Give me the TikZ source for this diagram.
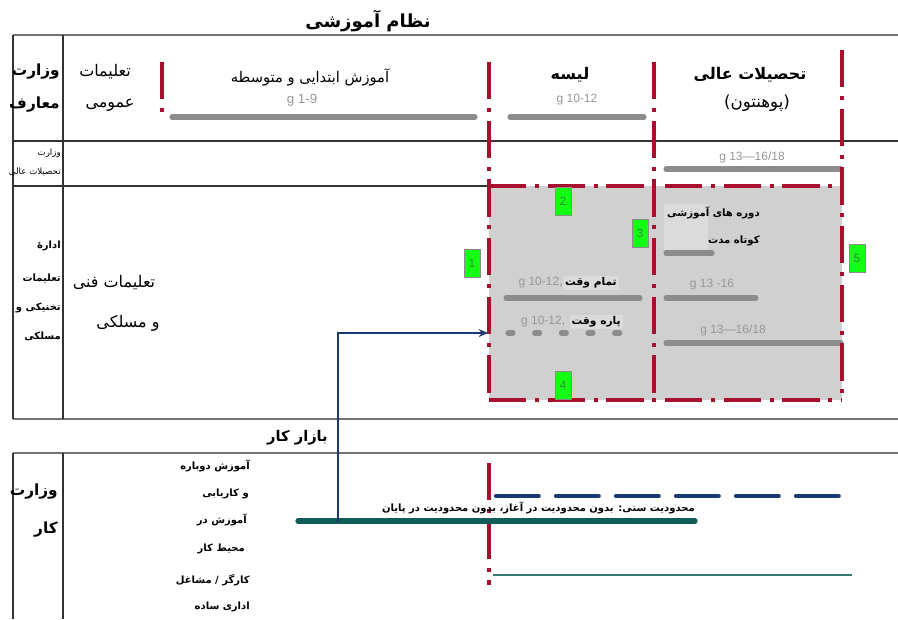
\documentclass[tikz,border=0pt]{standalone}
\usepackage{fontspec}
\setmainfont{Liberation Sans}
\newfontfamily\pfont[Script=Arabic]{DejaVu Sans}
\TeXXeTstate=1
\usetikzlibrary{arrows.meta}
\definecolor{redd}{RGB}{168,16,46}
\definecolor{barg}{RGB}{140,140,140}
\definecolor{boxg}{RGB}{208,208,208}
\definecolor{hig}{RGB}{219,219,219}
\definecolor{labg}{RGB}{150,150,150}
\definecolor{navy}{RGB}{24,58,110}
\definecolor{teal1}{RGB}{16,92,88}
\definecolor{teal2}{RGB}{60,120,115}
\definecolor{grn}{RGB}{20,255,20}
\tikzset{
  fa/.style={font={\pfont\fontsize{#1}{#1}\selectfont}, inner sep=0pt},
  fab/.style={font={\pfont\bfseries\fontsize{#1}{#1}\selectfont}, inner sep=0pt},
  glab/.style={font={\fontsize{9}{9}\selectfont}, text=labg, inner sep=0pt},
  rule/.style={line width=0.8pt, black!80},
  grule/.style={line width=1.1pt, black!55},
  reddash/.style={draw=redd, line width=3pt, dash pattern=on 28pt off 6.5pt on 3pt off 6.5pt},
  gbar/.style={draw=barg, line width=3.8pt, line cap=round},
  numbox/.style={draw=black!45, fill=grn, minimum width=12pt, minimum height=21pt, inner sep=0pt, text=black!45!green!60!gray, font={\fontsize{9}{9}\selectfont}},
  hilite/.style={inner sep=1.5pt, fill=hig},
}
\begin{document}
\begin{tikzpicture}[x=0.75pt, y=-0.75pt]
\useasboundingbox (0,0) rectangle (898,619);
% table rules
\draw[grule] (13,35) -- (898,35);
\draw[rule] (13,141) -- (898,141);
\draw[rule] (13,186) -- (489,186);
\draw[grule] (13,419) -- (898,419);
\draw[grule] (13,453) -- (898,453);
\draw[rule] (13,35) -- (13,419);
\draw[rule] (63,35) -- (63,419);
\draw[rule] (13,453) -- (13,619);
\draw[rule] (63,453) -- (63,619);
% title
\node[fab=13.5] (title) at (368,21) {\beginR نظام آموزشی\endR};
% left column
\node[fab=11.5, anchor=east] (vm1) at (60,72) {\beginR وزارت\endR};
\node[fab=11.5, anchor=east] (vm2) at (60,105) {\beginR معارف\endR};
\node[fa=12] (ta1) at (105,72) {\beginR تعلیمات\endR};
\node[fa=12] (ta2) at (110,105) {\beginR عمومی\endR};
\node[fa=6.5, anchor=east] (vt1) at (61,153) {\beginR وزارت\endR};
\node[fa=6.5, anchor=east] (vt2) at (61,172) {\beginR تحصیلات عالی\endR};
\node[fab=7.5, anchor=east] (ad1) at (61,246) {\beginR ادارهٔ\endR};
\node[fab=7.5, anchor=east] (ad2) at (61,279) {\beginR تعلیمات\endR};
\node[fab=7.5, anchor=east] (ad3) at (61,308) {\beginR تخنیکی و\endR};
\node[fab=7.5, anchor=east] (ad4) at (61,336) {\beginR مسلکی\endR};
\node[fa=12] (tf1) at (114,283) {\beginR تعلیمات فنی\endR};
\node[fa=12] (tf2) at (128,323) {\beginR و مسلکی\endR};
% gray box
\fill[boxg] (489,186) rectangle (842,400);
\fill[hig] (664,204) rectangle (708,250);
% headings
\node[fa=11] (h1) at (310,77) {\beginR آموزش ابتدایی و متوسطه\endR};
\node[glab, font={\fontsize{10}{10}\selectfont}] (g1) at (302,100) {g 1-9};
\node[fab=12] (h2) at (570,75) {\beginR لیسه\endR};
\node[glab] (g2) at (577,100) {g 10-12};
\node[fab=12] (h3) at (750,75) {\beginR تحصیلات عالی\endR};
\node[fa=12.5] (h4) at (757,103) {\beginR (پوهنتون)\endR};
\node[glab] (g3) at (752,157) {g 13—16/18};
% bars
\draw[gbar] (172,117) -- (475,117);
\draw[gbar] (510,117) -- (644,117);
\draw[gbar] (666,169) -- (841,169);
\draw[gbar] (666,253) -- (712,253);
\draw[gbar] (506,298) -- (640,298);
\draw[gbar] (666,298) -- (756,298);
\draw[gbar] (666,343) -- (841,343);
\draw[gbar, dash pattern=on 3.75pt off 16.25pt] (508,333) -- (622,333);
% box texts
\node[fab=7.6, anchor=east] (d1) at (760,213) {\beginR دوره های آموزشی\endR};
\node[fab=7.6, anchor=east] (d2) at (760,241) {\beginR کوتاه مدت\endR};
\node[hilite, anchor=east] (tv) at (619,283) {{\pfont\bfseries\fontsize{8}{8}\selectfont\beginR تمام وقت\endR}};
\node[glab, anchor=east] (tvg) at (tv.west) {g 10-12,};
\node[hilite, anchor=east] (pv) at (623,322) {{\pfont\bfseries\fontsize{8}{8}\selectfont\beginR پاره وقت\endR}};
\node[glab, anchor=east] (pvg) at ([xshift=-3pt]pv.west) {g 10-12,};
\node[glab] (g4) at (712,285) {g 13 -16};
\node[glab] (g5) at (733,330) {g 13—16/18};
% red dash-dot boundaries
\draw[reddash] (162,62) -- (162,118);
\draw[reddash] (489,62) -- (489,400);
\draw[reddash] (654,62) -- (654,400);
\draw[reddash] (842,50) -- (842,400);
\draw[reddash] (489,186) -- (842,186);
\draw[reddash] (489,400) -- (842,400);
\draw[reddash] (489,463) -- (489,585);
% numbered boxes
\node[numbox] (n1) at (472,263) {1};
\node[numbox] (n2) at (563,201) {2};
\node[numbox] (n3) at (640,233) {3};
\node[numbox] (n4) at (563,385) {4};
\node[numbox] (n5) at (857,258) {5};
% labour market
\node[fab=11, anchor=east] (bk) at (328,438) {\beginR بازار کار\endR};
\node[fab=11.5, anchor=east] (vk1) at (58,492) {\beginR وزارت\endR};
\node[fab=11.5, anchor=east] (vk2) at (58,530) {\beginR کار\endR};
\node[fab=7.5, anchor=east] (l1) at (250,466) {\beginR آموزش دوباره\endR};
\node[fab=7.5, anchor=east] (l2) at (249,494) {\beginR و کاریابی\endR};
\node[fab=7.5, anchor=east] (l3) at (247,520) {\beginR آموزش در\endR};
\node[fab=7.5, anchor=east] (l4) at (245,549) {\beginR محیط کار\endR};
\node[fab=7.5, anchor=east] (l5) at (250,580) {\beginR کارگر / مشاغل\endR};
\node[fab=7.5, anchor=east] (l6) at (250,607) {\beginR اداری ساده\endR};
% lines in labour section
\draw[navy, line width=3.2pt, line cap=round, dash pattern=on 32pt off 13pt] (496,496) -- (841,496);
\draw[teal1, line width=4pt, line cap=round] (298,521) -- (695,521);
\draw[teal2, line width=1.6pt] (493,575) -- (852,575);
\node[fab=7.5, anchor=east] (age) at (695,508) {\beginR محدودیت سنی: بدون محدودیت در آغاز، بدون محدودیت در پایان\endR};
% arrow
\coordinate (a0) at (338,522);
\coordinate (a1) at (488,333);
\draw[navy, line width=1.5pt, -{Stealth[length=7pt,width=6pt]}] (a0) |- (a1);
\end{tikzpicture}
\end{document}
